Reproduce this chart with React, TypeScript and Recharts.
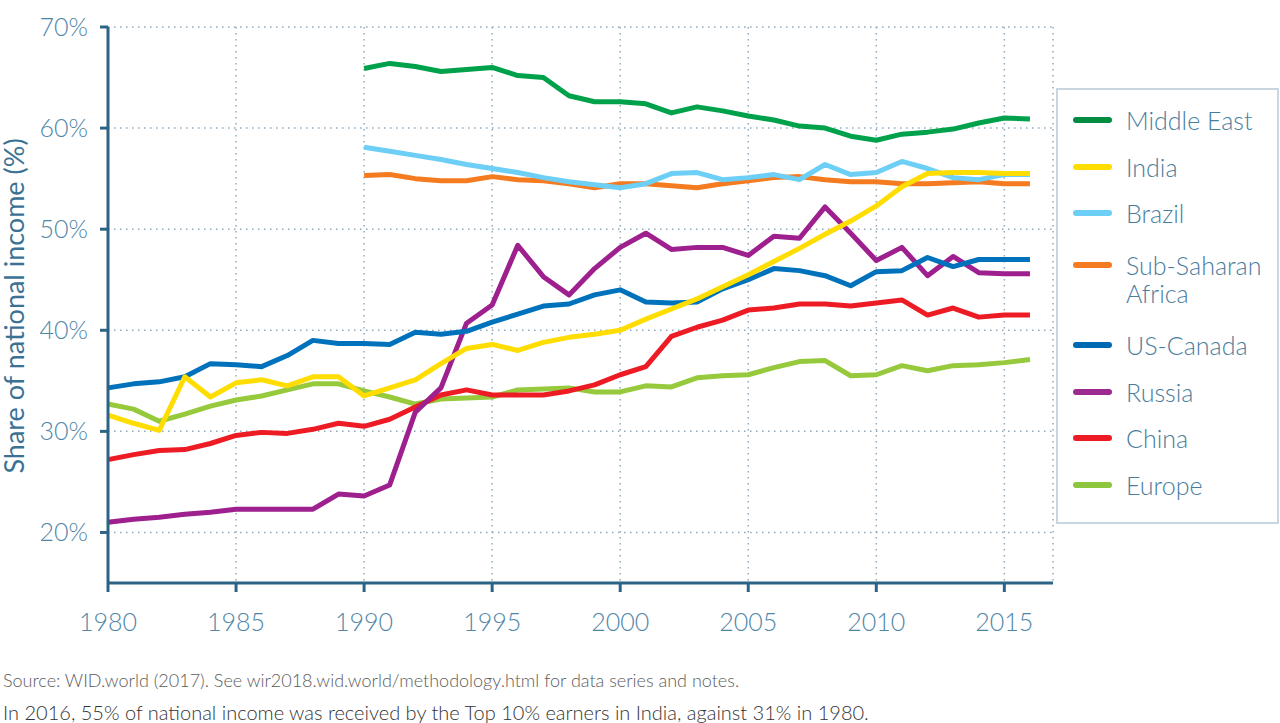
import { CartesianGrid, Line, LineChart, XAxis, YAxis } from "recharts";

// years 1980..2016
const years = [
  1980, 1981, 1982, 1983, 1984, 1985, 1986, 1987, 1988, 1989,
  1990, 1991, 1992, 1993, 1994, 1995, 1996, 1997, 1998, 1999,
  2000, 2001, 2002, 2003, 2004, 2005, 2006, 2007, 2008, 2009,
  2010, 2011, 2012, 2013, 2014, 2015, 2016,
];

const xTicks = [1980, 1985, 1990, 1995, 2000, 2005, 2010, 2015];
const yTicks = [20, 30, 40, 50, 60, 70];

// series values, null = no data (1980s for some regions)
const middleEast = [
  null, null, null, null, null, null, null, null, null, null,
  65.9, 66.4, 66.1, 65.6, 65.8, 66.0, 65.2, 65.0, 63.2, 62.6,
  62.6, 62.4, 61.5, 62.1, 61.7, 61.2, 60.8, 60.2, 60.0, 59.2,
  58.8, 59.4, 59.6, 59.9, 60.5, 61.0, 60.9,
];
const india = [
  31.6, 30.8, 30.1, 35.4, 33.4, 34.8, 35.1, 34.5, 35.4, 35.4,
  33.5, 34.3, 35.1, 36.7, 38.2, 38.6, 38.0, 38.8, 39.3, 39.6,
  40.0, 41.1, 42.1, 43.1, 44.3, 45.5, 46.8, 48.1, 49.5, 50.8,
  52.3, 54.2, 55.5, 55.6, 55.6, 55.5, 55.5,
];
const brazil = [
  null, null, null, null, null, null, null, null, null, null,
  58.1, 57.7, 57.3, 56.9, 56.4, 56.0, 55.6, 55.1, 54.7, 54.4,
  54.1, 54.5, 55.5, 55.6, 54.9, 55.1, 55.4, 54.9, 56.4, 55.4,
  55.6, 56.7, 56.0, 55.1, 54.9, 55.4, 55.4,
];
const subSaharan = [
  null, null, null, null, null, null, null, null, null, null,
  55.3, 55.4, 55.0, 54.8, 54.8, 55.2, 54.9, 54.8, 54.5, 54.1,
  54.5, 54.5, 54.3, 54.1, 54.5, 54.8, 55.1, 55.2, 54.9, 54.7,
  54.7, 54.5, 54.5, 54.6, 54.7, 54.5, 54.5,
];
const usCanada = [
  34.3, 34.7, 34.9, 35.4, 36.7, 36.6, 36.4, 37.5, 39.0, 38.7,
  38.7, 38.6, 39.8, 39.6, 39.9, 40.8, 41.6, 42.4, 42.6, 43.5,
  44.0, 42.8, 42.7, 42.8, 44.1, 45.0, 46.1, 45.9, 45.4, 44.4,
  45.8, 45.9, 47.2, 46.3, 47.0, 47.0, 47.0,
];
const russia = [
  21.0, 21.3, 21.5, 21.8, 22.0, 22.3, 22.3, 22.3, 22.3, 23.8,
  23.6, 24.7, 31.9, 34.3, 40.7, 42.5, 48.4, 45.3, 43.5, 46.1,
  48.2, 49.6, 48.0, 48.2, 48.2, 47.4, 49.3, 49.1, 52.2, 49.6,
  46.9, 48.2, 45.4, 47.3, 45.7, 45.6, 45.6,
];
const china = [
  27.2, 27.7, 28.1, 28.2, 28.8, 29.6, 29.9, 29.8, 30.2, 30.8,
  30.5, 31.2, 32.4, 33.6, 34.1, 33.6, 33.6, 33.6, 34.0, 34.6,
  35.6, 36.4, 39.4, 40.3, 41.0, 42.0, 42.2, 42.6, 42.6, 42.4,
  42.7, 43.0, 41.5, 42.2, 41.3, 41.5, 41.5,
];
const europe = [
  32.7, 32.2, 31.0, 31.7, 32.5, 33.1, 33.5, 34.1, 34.7, 34.7,
  34.0, 33.4, 32.7, 33.2, 33.3, 33.4, 34.1, 34.2, 34.3, 33.9,
  33.9, 34.5, 34.4, 35.3, 35.5, 35.6, 36.3, 36.9, 37.0, 35.5,
  35.6, 36.5, 36.0, 36.5, 36.6, 36.8, 37.1,
];

const series = [
  { key: "me", name: "Middle East", color: "#00a14b", swatch: "#008d42", values: middleEast },
  { key: "in", name: "India", color: "#ffdd00", swatch: "#ffdd00", values: india },
  { key: "br", name: "Brazil", color: "#6dcff6", swatch: "#6dcff6", values: brazil },
  { key: "ssa", name: "Sub-Saharan Africa", color: "#f47b20", swatch: "#f47b20", values: subSaharan },
  { key: "us", name: "US-Canada", color: "#0072bc", swatch: "#0069b4", values: usCanada },
  { key: "ru", name: "Russia", color: "#9e1f8e", swatch: "#9b2a91", values: russia },
  { key: "cn", name: "China", color: "#ed1c24", swatch: "#ed1c24", values: china },
  { key: "eu", name: "Europe", color: "#97c93d", swatch: "#8dc63f", values: europe },
];

const data = years.map((year, i) => {
  const row: Record<string, number | null> = { year };
  series.forEach((s) => (row[s.key] = s.values[i]));
  return row;
});

const font = "Lato, 'Noto Sans', sans-serif";
const axisColor = "#2d6384";
const tickColor = "#4f86a8";

export default function App() {
  return (
    <div style={{ position: "absolute", left: 0, top: 0, width: 1280, height: 723, background: "#fff", fontFamily: font, overflow: "hidden" }}>
      <LineChart width={1280} height={640} data={data} margin={{ top: 27, right: 227, bottom: 17, left: 0 }}>
        <CartesianGrid stroke="#8fa9ba" strokeDasharray="1.5 4.5" strokeWidth={1.5} />
        <XAxis
          dataKey="year"
          type="number"
          domain={[1980, 2016.9]}
          ticks={xTicks}
          height={40}
          stroke={axisColor}
          strokeWidth={3}
          tickSize={9}
          tickMargin={21}
          tick={{ fill: tickColor, fontSize: 25, fontWeight: 300, fontFamily: font }}
        />
        <YAxis
          type="number"
          domain={[15, 70]}
          ticks={yTicks}
          width={108}
          stroke={axisColor}
          strokeWidth={3}
          tickSize={8}
          tickMargin={12}
          tickFormatter={(v) => `${v}%`}
          tick={{ fill: tickColor, fontSize: 25, fontWeight: 300, fontFamily: font }}
        />
        {[...series].reverse().map((s) => (
          <Line
            key={s.key}
            dataKey={s.key}
            name={s.name}
            type="linear"
            stroke={s.color}
            strokeWidth={5}
            strokeLinejoin="round"
            dot={false}
            activeDot={false}
            connectNulls={false}
            isAnimationActive={false}
          />
        ))}
      </LineChart>

      <svg style={{ position: "absolute", left: 0, top: 0 }} width={40} height={640}>
        <text
          x={24}
          y={306}
          transform="rotate(-90 24 306)"
          textAnchor="middle"
          fill="#3b7294"
          fontSize={27}
          fontFamily={font}
        >
          Share of national income (%)
        </text>
      </svg>

      <div
        style={{
          position: "absolute",
          left: 1056,
          top: 88,
          width: 223,
          height: 436,
          border: "2px solid #c9d6df",
          padding: "16px 0 0 15px",
          boxSizing: "border-box",
          display: "flex",
          flexDirection: "column",
          gap: 18.5,
        }}
      >
        {series.map((s) => {
          const twoLine = s.name.length > 14;
          return (
            <div key={s.key} style={{ display: "flex", alignItems: "flex-start", margin: twoLine ? "5.5px 0" : 0 }}>
              <span style={{ width: 39, height: 6, borderRadius: 3, background: s.swatch, marginTop: 11, marginRight: 14, flexShrink: 0 }} />
              <span style={{ fontSize: 25, lineHeight: "28px", color: "#4a7d9c", fontWeight: 300, width: 145 }}>{s.name}</span>
            </div>
          );
        })}
      </div>

      <div style={{ position: "absolute", left: 3, top: 669, fontSize: 18, color: "#5c5c5c", fontWeight: 300, whiteSpace: "nowrap" }}>
        Source: WID.world (2017). See wir2018.wid.world/methodology.html for data series and notes.
      </div>
      <div style={{ position: "absolute", left: 3, top: 700, fontSize: 20, color: "#333", fontWeight: 300, whiteSpace: "nowrap" }}>
        In 2016, 55% of national income was received by the Top 10% earners in India, against 31% in 1980.
      </div>
    </div>
  );
}
